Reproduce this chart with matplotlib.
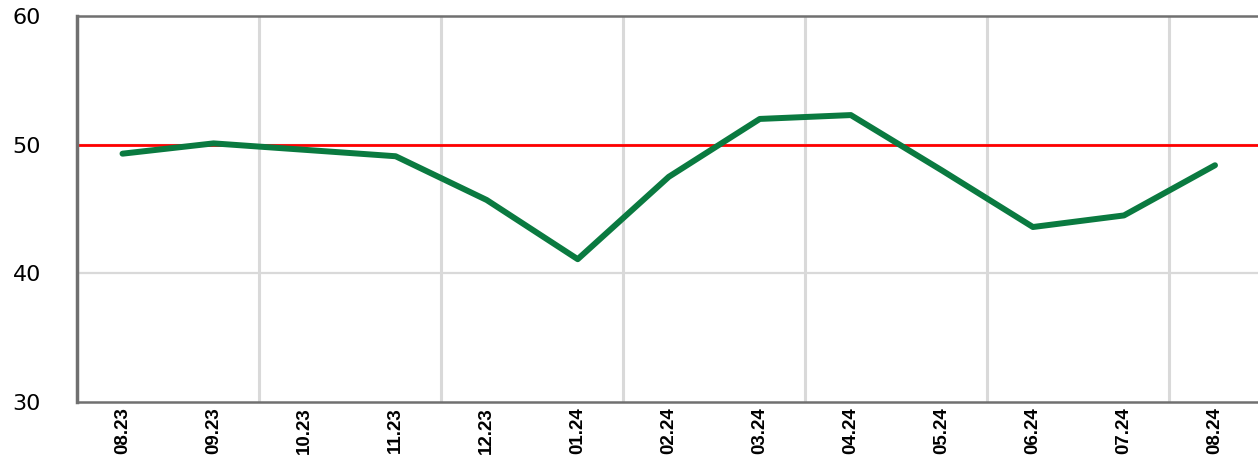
import matplotlib
matplotlib.use("Agg")
import matplotlib.pyplot as plt

months = ["08.23", "09.23", "10.23", "11.23", "12.23", "01.24", "02.24",
          "03.24", "04.24", "05.24", "06.24", "07.24", "08.24"]
pmi = [49.3, 50.1, 49.6, 49.1, 45.7, 41.1, 47.5, 52.0, 52.3, 48.0, 43.6, 44.5, 48.4]
y_ticks = [30, 40, 50, 60]
threshold = 50

fig = plt.figure(figsize=(12.58, 4.59), dpi=100)
ax = fig.add_axes([77/1258, 1 - 402/459, 1 - 77/1258 + 0.002, (402 - 16)/459])

x = list(range(len(months)))
ax.set_xlim(-0.5, len(months) - 0.5)
ax.set_ylim(30, 60)

# grid
for v in [1.5, 3.5, 5.5, 7.5, 9.5, 11.5]:
    ax.axvline(v, color="#d9d9d9", lw=2.2, zorder=1)
for v in [40, 50]:
    ax.axhline(v, color="#d9d9d9", lw=1.6, zorder=1)

ax.axhline(threshold, color="#ff0000", lw=2.0, zorder=2)
ax.plot(x, pmi, color="#0a7a40", lw=4.3, solid_joinstyle="round",
        solid_capstyle="round", zorder=3)

ax.set_yticks(y_ticks)
ax.set_yticklabels([str(t) for t in y_ticks], fontsize=16, family="DejaVu Sans")
ax.set_xticks(x)
ax.set_xticklabels(months, rotation=90, fontsize=13.5, fontweight="bold",
                   family=["Liberation Sans Narrow", "Liberation Sans"])
ax.tick_params(axis="y", length=0, pad=26)
ax.tick_params(axis="x", length=0, pad=4)

for s in ["left", "bottom", "top"]:
    ax.spines[s].set_color("#707070")
    ax.spines[s].set_linewidth(1.8)
ax.spines["left"].set_linewidth(2.5)
ax.spines["right"].set_visible(False)

fig.savefig("out.png", dpi=100)
